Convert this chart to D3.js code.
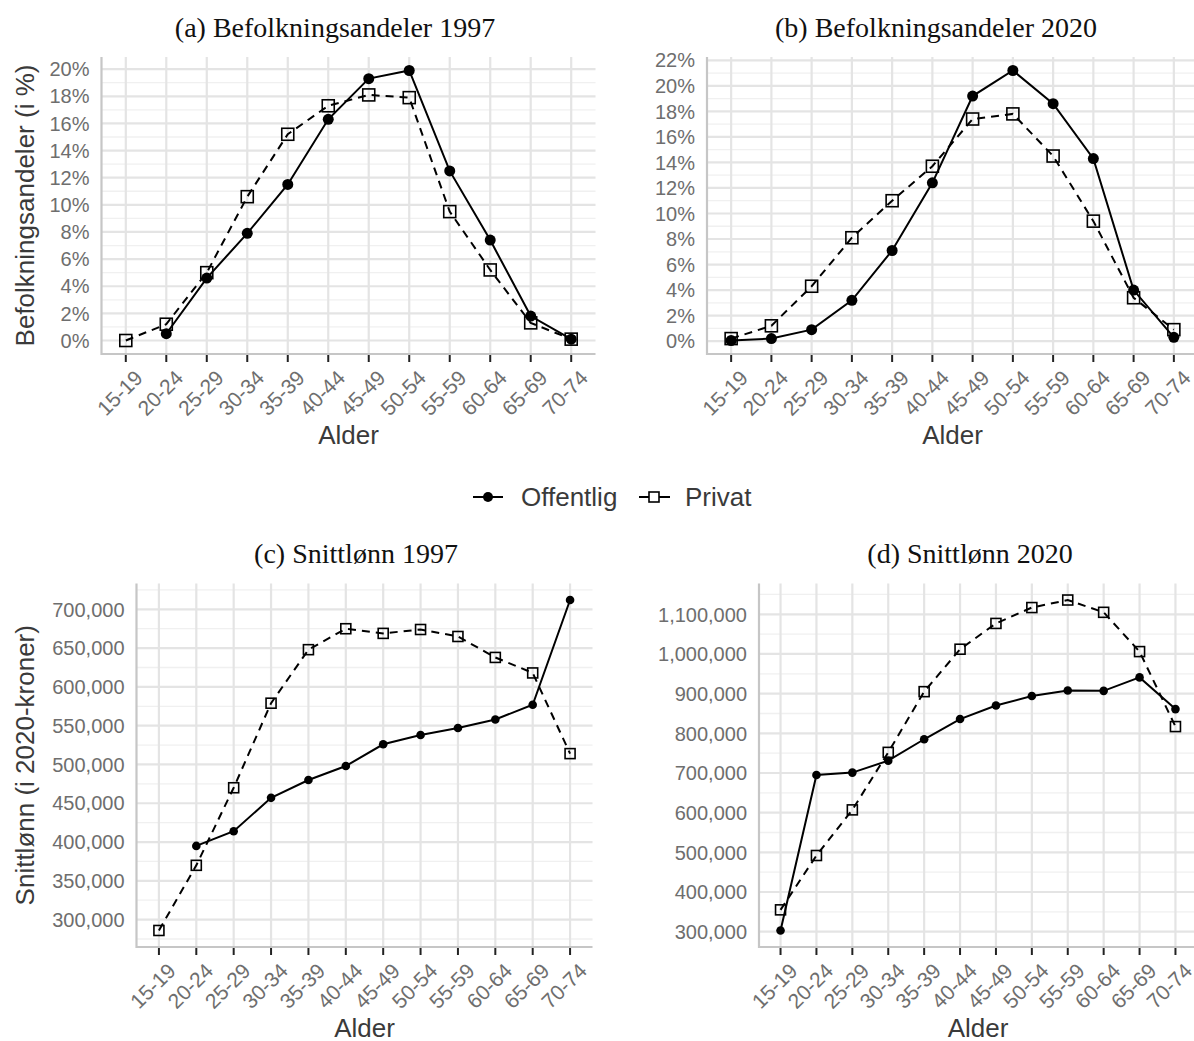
<!DOCTYPE html>
<html>
<head>
<meta charset="utf-8">
<script src="https://cdnjs.cloudflare.com/ajax/libs/d3/7.8.5/d3.min.js"></script>
<style>
  body { margin: 0; background: #ffffff; }
  svg { display: block; }
</style>
</head>
<body>
<div id="chart"></div>
<script>
// Age groups on the x axis
var ageGroups = ["15-19", "20-24", "25-29", "30-34", "35-39", "40-44",
                 "45-49", "50-54", "55-59", "60-64", "65-69", "70-74"];

// (a) population shares 1997 (%)
var shares1997Offentlig = [null, 0.5, 4.6, 7.9, 11.5, 16.3, 19.3, 19.9, 12.5, 7.4, 1.8, 0.1];
var shares1997Privat    = [0.0, 1.2, 5.0, 10.6, 15.2, 17.3, 18.1, 17.9, 9.5, 5.2, 1.3, 0.1];

// (b) population shares 2020 (%)
var shares2020Offentlig = [0.05, 0.2, 0.9, 3.2, 7.1, 12.4, 19.2, 21.2, 18.6, 14.3, 4.0, 0.3];
var shares2020Privat    = [0.2, 1.2, 4.3, 8.1, 11.0, 13.7, 17.4, 17.8, 14.5, 9.4, 3.4, 0.9];

// (c) average wage 1997 (in 2020 NOK)
var wages1997Offentlig = [null, 395000, 414000, 457000, 480000, 498000, 526000, 538000, 547000, 558000, 577000, 712000];
var wages1997Privat    = [286000, 370000, 470000, 579000, 648000, 675000, 669000, 674000, 665000, 638000, 618000, 514000];

// (d) average wage 2020
var wages2020Offentlig = [303000, 695000, 701000, 731000, 785000, 836000, 870000, 894000, 908000, 907000, 941000, 861000];
var wages2020Privat    = [355000, 492000, 607000, 752000, 905000, 1012000, 1077000, 1117000, 1136000, 1105000, 1006000, 817000];

// y tick values
var shareTicksA = [0, 2, 4, 6, 8, 10, 12, 14, 16, 18, 20];
var shareTicksB = [0, 2, 4, 6, 8, 10, 12, 14, 16, 18, 20, 22];
var wageTicksC = [300000, 350000, 400000, 450000, 500000, 550000, 600000, 650000, 700000];
var wageTicksD = [300000, 400000, 500000, 600000, 700000, 800000, 900000, 1000000, 1100000];

var seriesNames = ["Offentlig", "Privat"];

var svgWidth = 1194;
var svgHeight = 1041;

var svg = d3.select("#chart")
  .append("svg")
  .attr("width", svgWidth)
  .attr("height", svgHeight);

var sansFont = "'Liberation Sans', Arial, sans-serif";
var serifFont = "'Liberation Serif', 'Times New Roman', serif";

// Draw one facet
function drawPanel(p) {
  var g = svg.append("g");

  var xScale = d3.scalePoint()
    .domain(ageGroups)
    .range([p.left, p.right])
    .padding(0.6);

  var allVals = p.offentlig.concat(p.privat).filter(d => d != null);
  var lo = d3.min(allVals), hi = d3.max(allVals);
  var pad = (hi - lo) * 0.05;
  var yScale = d3.scaleLinear()
    .domain([lo - pad, hi + pad])
    .range([p.bottom, p.top]);

  // minor grid lines half way between ticks
  var step = p.ticks[1] - p.ticks[0];
  var minor = [];
  for (var v = p.ticks[0] - step / 2; v <= yScale.domain()[1]; v += step) {
    if (v >= yScale.domain()[0]) minor.push(v);
  }

  g.selectAll(".minor")
    .data(minor)
    .enter()
    .append("line")
    .attr("x1", p.left).attr("x2", p.right)
    .attr("y1", d => yScale(d)).attr("y2", d => yScale(d))
    .attr("stroke", "#f0f0f0")
    .attr("stroke-width", 1.3);

  g.selectAll(".major")
    .data(p.ticks)
    .enter()
    .append("line")
    .attr("x1", p.left).attr("x2", p.right)
    .attr("y1", d => yScale(d)).attr("y2", d => yScale(d))
    .attr("stroke", "#e4e4e4")
    .attr("stroke-width", 2.2);

  g.selectAll(".vgrid")
    .data(ageGroups)
    .enter()
    .append("line")
    .attr("x1", d => xScale(d)).attr("x2", d => xScale(d))
    .attr("y1", p.top).attr("y2", p.bottom)
    .attr("stroke", "#e4e4e4")
    .attr("stroke-width", 2.2);

  // axis lines (left + bottom)
  g.append("path")
    .attr("d", `M${p.left},${p.top}V${p.bottom}H${p.right}`)
    .attr("fill", "none")
    .attr("stroke", "#c6c6c6")
    .attr("stroke-width", 2.2);

  // x ticks
  g.selectAll(".xtick")
    .data(ageGroups)
    .enter()
    .append("line")
    .attr("x1", d => xScale(d)).attr("x2", d => xScale(d))
    .attr("y1", p.bottom + 1).attr("y2", p.bottom + 8)
    .attr("stroke", "#222")
    .attr("stroke-width", 2);

  g.selectAll(".xlabel")
    .data(ageGroups)
    .enter()
    .append("text")
    .attr("transform", d => `translate(${xScale(d) + 7},${p.bottom + 14}) rotate(-45)`)
    .attr("text-anchor", "end")
    .attr("dy", "0.75em")
    .attr("font-family", sansFont)
    .attr("font-size", "21px")
    .attr("fill", "#6e6e6e")
    .text(d => d);

  // y labels
  g.selectAll(".ylabel")
    .data(p.ticks)
    .enter()
    .append("text")
    .attr("x", p.left - 12)
    .attr("y", d => yScale(d))
    .attr("dy", "0.36em")
    .attr("text-anchor", "end")
    .attr("font-family", sansFont)
    .attr("font-size", "20px")
    .attr("fill", "#6e6e6e")
    .text(p.format);

  // lines
  var line = d3.line()
    .defined(d => d != null)
    .x((d, i) => xScale(ageGroups[i]))
    .y(d => yScale(d));

  g.append("path")
    .datum(p.privat)
    .attr("d", line)
    .attr("fill", "none")
    .attr("stroke", "#000")
    .attr("stroke-width", 2)
    .attr("stroke-dasharray", "8,6");

  g.append("path")
    .datum(p.offentlig)
    .attr("d", line)
    .attr("fill", "none")
    .attr("stroke", "#000")
    .attr("stroke-width", 2);

  // points
  var pts = ageGroups.map((a, i) => ({ age: a, v: p.offentlig[i] })).filter(d => d.v != null);
  g.selectAll(".dot")
    .data(pts)
    .enter()
    .append("circle")
    .attr("cx", d => xScale(d.age))
    .attr("cy", d => yScale(d.v))
    .attr("r", p.radius)
    .attr("fill", "#000");

  var sq = ageGroups.map((a, i) => ({ age: a, v: p.privat[i] })).filter(d => d.v != null);
  g.selectAll(".sq")
    .data(sq)
    .enter()
    .append("rect")
    .attr("x", d => xScale(d.age) - p.square / 2)
    .attr("y", d => yScale(d.v) - p.square / 2)
    .attr("width", p.square)
    .attr("height", p.square)
    .attr("fill", "none")
    .attr("stroke", "#000")
    .attr("stroke-width", 1.6);

  // titles
  g.append("text")
    .attr("x", p.titleX)
    .attr("y", p.titleY)
    .attr("text-anchor", "middle")
    .attr("font-family", serifFont)
    .attr("font-size", "28px")
    .attr("fill", "#111")
    .text(p.title);

  g.append("text")
    .attr("x", (p.left + p.right) / 2)
    .attr("y", p.bottom + 90)
    .attr("text-anchor", "middle")
    .attr("font-family", sansFont)
    .attr("font-size", "26px")
    .attr("fill", "#3a3a3a")
    .text("Alder");

  if (p.yTitle) {
    g.append("text")
      .attr("transform", `translate(34,${(p.top + p.bottom) / 2}) rotate(-90)`)
      .attr("text-anchor", "middle")
      .attr("font-family", sansFont)
      .attr("font-size", "26px")
      .attr("fill", "#3a3a3a")
      .text(p.yTitle);
  }
}

var pctFormat = d => d + "%";
var wageFormat = d3.format(",");

drawPanel({
  left: 101.5, right: 595.5, top: 57, bottom: 354,
  offentlig: shares1997Offentlig, privat: shares1997Privat,
  ticks: shareTicksA, format: pctFormat, radius: 5.5, square: 12,
  title: "(a) Befolkningsandeler 1997", titleX: 335, titleY: 37,
  yTitle: "Befolkningsandeler (i %)"
});

drawPanel({
  left: 707, right: 1198, top: 57, bottom: 354,
  offentlig: shares2020Offentlig, privat: shares2020Privat,
  ticks: shareTicksB, format: pctFormat, radius: 5.5, square: 12,
  title: "(b) Befolkningsandeler 2020", titleX: 936, titleY: 37
});

drawPanel({
  left: 136.5, right: 592.5, top: 583.5, bottom: 947,
  offentlig: wages1997Offentlig, privat: wages1997Privat,
  ticks: wageTicksC, format: wageFormat, radius: 4.3, square: 10,
  title: "(c) Snittlønn 1997", titleX: 356, titleY: 563,
  yTitle: "Snittlønn (i 2020-kroner)"
});

drawPanel({
  left: 759, right: 1197, top: 583.5, bottom: 947,
  offentlig: wages2020Offentlig, privat: wages2020Privat,
  ticks: wageTicksD, format: wageFormat, radius: 4.3, square: 10,
  title: "(d) Snittlønn 2020", titleX: 970, titleY: 563
});

// Legend
var legend = svg.append("g").attr("transform", "translate(0,497)");

legend.append("line")
  .attr("x1", 473).attr("x2", 503).attr("y1", 0).attr("y2", 0)
  .attr("stroke", "#000").attr("stroke-width", 2);
legend.append("circle")
  .attr("cx", 488).attr("cy", 0).attr("r", 5)
  .attr("fill", "#000");
legend.append("text")
  .attr("x", 521).attr("y", 0).attr("dy", "0.36em")
  .attr("font-family", sansFont).attr("font-size", "26px").attr("fill", "#3a3a3a")
  .text(seriesNames[0]);

legend.append("line")
  .attr("x1", 639).attr("x2", 670).attr("y1", 0).attr("y2", 0)
  .attr("stroke", "#000").attr("stroke-width", 2);
legend.append("rect")
  .attr("x", 649).attr("y", -5).attr("width", 10).attr("height", 10)
  .attr("fill", "#fff").attr("stroke", "#000").attr("stroke-width", 1.6);
legend.append("text")
  .attr("x", 685).attr("y", 0).attr("dy", "0.36em")
  .attr("font-family", sansFont).attr("font-size", "26px").attr("fill", "#3a3a3a")
  .text(seriesNames[1]);
</script>
</body>
</html>
